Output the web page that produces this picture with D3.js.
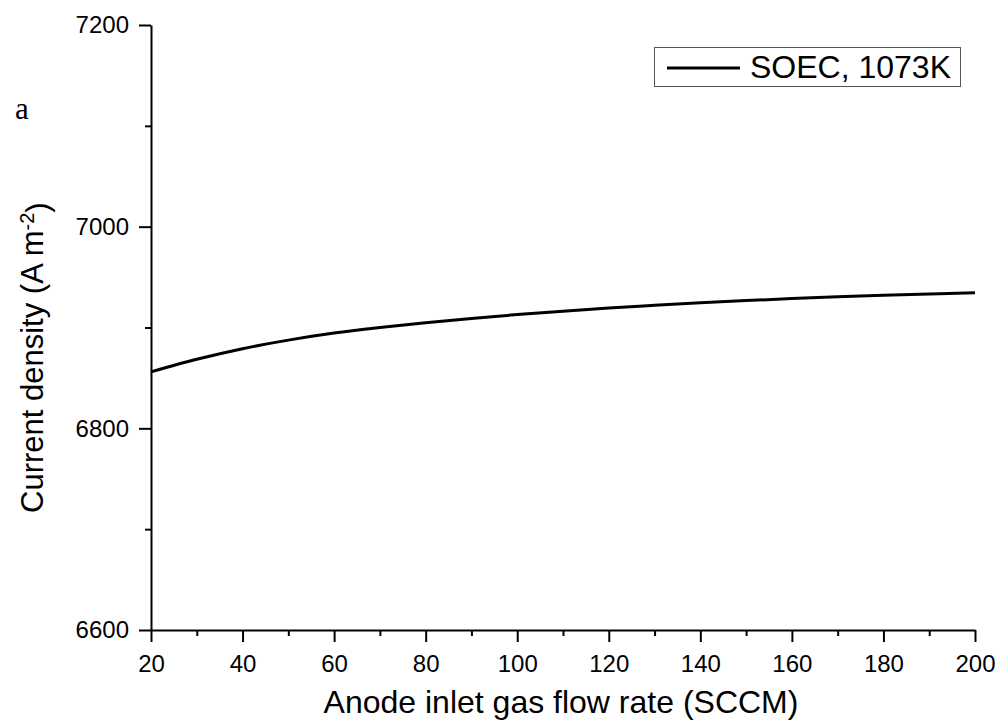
<!DOCTYPE html>
<html>
<head>
<meta charset="utf-8">
<script src="https://cdn.jsdelivr.net/npm/d3@7/dist/d3.min.js"></script>
<style>
  html, body { margin: 0; padding: 0; background: #fff; }
  svg { display: block; }
  text { font-family: "Liberation Sans", Arial, sans-serif; fill: #000; }
</style>
</head>
<body>
<svg id="chart" width="1001" height="724"></svg>
<script>
// Anode inlet gas flow rate (SCCM) and resulting current density (A m^-2)
const flowRate = [20, 30, 40, 50, 60, 70, 80, 90, 100, 110, 120, 130, 140, 150, 160, 170, 180, 190, 200];
const currentDensity = [6856, 6868.5, 6879, 6887.5, 6894.5, 6900, 6904.8, 6909, 6912.8, 6916.2, 6919.3, 6922, 6924.5, 6926.7, 6928.7, 6930.5, 6932, 6933.3, 6934.5];
const seriesName = "SOEC, 1073K";
const xTicks = [20, 40, 60, 80, 100, 120, 140, 160, 180, 200];
const xMinorTicks = [30, 50, 70, 90, 110, 130, 150, 170, 190];
const yTicks = [6600, 6800, 7000, 7200];
const yMinorTicks = [6700, 6900, 7100];

const svg = d3.select("#chart");
const plot = { left: 151, right: 975, top: 25, bottom: 630 };

const x = d3.scaleLinear().domain([20, 200]).range([plot.left, plot.right]);
const y = d3.scaleLinear().domain([6600, 7200]).range([plot.bottom, plot.top]);

// X axis: major ticks with labels, minor ticks without
svg.append("g").attr("transform", `translate(0,${plot.bottom})`)
  .call(d3.axisBottom(x).tickValues(xTicks).tickFormat(d3.format("d"))
    .tickSize(12).tickSizeOuter(0).tickPadding(13));
svg.append("g").attr("transform", `translate(0,${plot.bottom})`)
  .call(d3.axisBottom(x).tickValues(xMinorTicks).tickFormat("").tickSize(6).tickSizeOuter(0))
  .select(".domain").remove();

// Y axis
svg.append("g").attr("transform", `translate(${plot.left},0)`)
  .call(d3.axisLeft(y).tickValues(yTicks).tickFormat(d3.format("d"))
    .tickSize(12).tickSizeOuter(0).tickPadding(10));
svg.append("g").attr("transform", `translate(${plot.left},0)`)
  .call(d3.axisLeft(y).tickValues(yMinorTicks).tickFormat("").tickSize(6).tickSizeOuter(0))
  .select(".domain").remove();

svg.selectAll(".domain, .tick line").attr("stroke", "#000").attr("stroke-width", 2);
svg.selectAll(".tick text").style("font-size", "24px").style("font-family", "'Liberation Sans', Arial, sans-serif").attr("fill", "#000");

// Data line
const line = d3.line().x((d, i) => x(flowRate[i])).y(d => y(d)).curve(d3.curveMonotoneX);
svg.append("path").datum(currentDensity)
  .attr("d", line).attr("fill", "none").attr("stroke", "#000").attr("stroke-width", 3);

// Axis titles
svg.append("text").attr("x", 561).attr("y", 713)
  .attr("text-anchor", "middle").style("font-size", "32px")
  .text("Anode inlet gas flow rate (SCCM)");

const yTitle = svg.append("text")
  .attr("transform", "translate(43,513) rotate(-90)")
  .attr("text-anchor", "start").style("font-size", "31px");
yTitle.append("tspan").text("Current density (A m");
yTitle.append("tspan").attr("dy", "-0.45em").style("font-size", "20px").text("-2");
yTitle.append("tspan").attr("dy", "0.45em").text(")");

// Panel label
svg.append("text").attr("x", 15).attr("y", 119)
  .style("font-family", "'Liberation Serif', 'Times New Roman', serif").style("font-size", "31px")
  .text("a");

// Legend
const lg = svg.append("g");
lg.append("rect").attr("x", 654.5).attr("y", 47.5).attr("width", 306).attr("height", 39)
  .attr("fill", "#fff").attr("stroke", "#555").attr("stroke-width", 1);
lg.append("line").attr("x1", 667).attr("x2", 740).attr("y1", 68).attr("y2", 68)
  .attr("stroke", "#000").attr("stroke-width", 3);
lg.append("text").attr("x", 750).attr("y", 78).style("font-size", "32px").text(seriesName);
</script>
</body>
</html>
